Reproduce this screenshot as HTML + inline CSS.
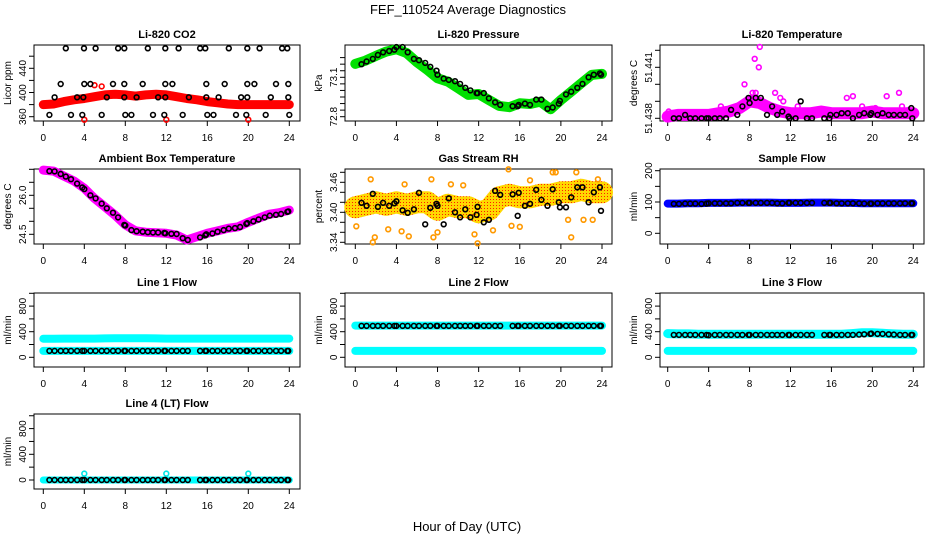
<!DOCTYPE html>
<html><head><meta charset="utf-8"><style>
html,body{margin:0;padding:0;background:#fff;}
svg{display:block;font-family:"Liberation Sans",sans-serif;}
</style></head><body>
<svg id="chart" width="936" height="540" viewBox="0 0 936 540" xmlns="http://www.w3.org/2000/svg">
<text x="468" y="14" font-size="13" text-anchor="middle">FEF_110524  Average Diagnostics</text>
<text x="467" y="531" font-size="13" text-anchor="middle">Hour of Day (UTC)</text>
</svg>
<script>
const xTicks=[0,4,8,12,16,20,24];
const T=[0.6,1.1,1.7,2.2,2.7,3.3,3.8,4.0,4.6,5.1,5.7,6.2,6.8,7.3,7.9,8.0,8.6,9.1,9.7,10.2,10.7,11.2,11.8,11.9,12.5,13.0,13.6,14.1,15.3,15.8,15.9,16.5,17.0,17.6,18.1,18.7,19.2,19.8,19.9,20.5,21.0,21.6,22.1,22.7,23.2,23.8,23.9];
const H=[0,1,2,3,4,5,6,7,8,9,10,11,12,13,14,15,16,17,18,19,20,21,22,23,24];
// CO2
const co2T=[2.2,3.97,5.1,7.3,7.9,10.2,11.9,13.2,15.3,15.8,18.1,19.9,21.1,23.3,23.8,1.7,4.0,4.6,6.8,7.9,9.7,11.9,12.6,15.9,17.7,19.9,20.6,22.7,23.9,1.1,3.3,3.9,6.2,7.9,9.1,11.2,11.9,14.2,15.9,17.1,19.3,19.9,22.2,23.9,0.6,2.7,3.8,5.7,8.0,8.6,10.7,11.8,13.6,16.0,16.6,18.8,19.8,21.7,24.0];
const co2V=[473,473,473,473,473,473,473,473,473,473,473,473,473,473,473,414,414,414,414,414,414,414,414,414,414,414,414,414,414,392,392,392,392,392,392,392,392,392,392,392,392,392,392,392,363,363,363,363,363,363,363,363,363,363,363,363,363,363,363];
const co2Band=[380,381,385,388,390,393,396,397,396,394,396,397,396,393,390,388,385,383,381,380,380,380,380,380,380];
const co2OutT=[4,12,20,5,5.7];
const co2OutV=[355,355,355,412,410];
// Pressure
const presBand=[73.202,73.227,73.263,73.296,73.314,73.284,73.215,73.156,73.093,73.067,73.017,72.966,72.973,72.927,72.882,72.872,72.902,72.897,72.915,72.856,72.927,72.991,73.055,73.118,73.126];
const presV=[73.2,73.22,73.24,73.27,73.29,73.3,73.31,73.33,73.33,73.29,73.24,73.23,73.21,73.18,73.15,73.12,73.09,73.08,73.07,73.05,73.02,73.0,72.98,72.98,72.98,72.94,72.91,72.89,72.88,72.88,72.89,72.9,72.89,72.93,72.93,72.86,72.87,72.9,72.92,72.97,72.99,73.02,73.05,73.1,73.12,73.13,73.12];
// Li-820 temperature
const tempBand=[51.4381,51.4382,51.4382,51.4382,51.4382,51.4383,51.4384,51.4386,51.4390,51.4389,51.4386,51.4384,51.4383,51.4383,51.4383,51.4384,51.4383,51.4383,51.4383,51.4383,51.4384,51.4383,51.4383,51.4383,51.4383];
const tempV=[51.438,51.438,51.4382,51.438,51.438,51.438,51.438,51.438,51.438,51.438,51.438,51.4385,51.4382,51.4387,51.4392,51.4389,51.4392,51.4392,51.4382,51.4387,51.4382,51.4384,51.4381,51.438,51.438,51.439,51.438,51.438,51.438,51.438,51.4382,51.4382,51.4383,51.4383,51.438,51.4382,51.4383,51.4382,51.4383,51.4382,51.4383,51.4382,51.4382,51.4382,51.4382,51.4386,51.438];
const tempSpT=[8.5,9.0,8.9,7.5,8.3,8.6,10.5,11.0,11.3,17.5,18.1,21.4,22.6,0.1,5.2,6.2,12.7,15.0,19.0,20.3,22.9,23.6];
const tempSpV=[51.4415,51.4422,51.441,51.44,51.4395,51.4395,51.4395,51.4392,51.439,51.4392,51.4393,51.4393,51.4395,51.4384,51.4387,51.4385,51.4387,51.4385,51.4387,51.4386,51.4387,51.4385];
// Ambient
const ambBand=[26.97,26.93,26.74,26.55,26.27,25.88,25.56,25.24,24.86,24.63,24.58,24.56,24.54,24.47,24.28,24.41,24.54,24.63,24.73,24.79,24.96,25.12,25.27,25.33,25.43];
const ambV=[26.93,26.92,26.82,26.72,26.62,26.45,26.30,26.24,26.0,25.88,25.68,25.5,25.33,25.15,24.86,24.84,24.66,24.62,24.6,24.58,24.57,24.57,24.55,24.54,24.52,24.51,24.35,24.28,24.38,24.46,24.5,24.53,24.6,24.66,24.72,24.74,24.78,24.9,24.93,25.0,25.07,25.15,25.22,25.25,25.28,25.36,25.38];
// RH
const rhBand=[3.41,3.415,3.42,3.415,3.42,3.415,3.42,3.42,3.405,3.415,3.41,3.41,3.40,3.405,3.43,3.435,3.43,3.43,3.435,3.435,3.44,3.44,3.445,3.44,3.44];
const rhV=[3.419,3.413,3.437,3.411,3.419,3.413,3.418,3.422,3.404,3.399,3.406,3.439,3.376,3.409,3.417,3.413,3.376,3.428,3.40,3.39,3.406,3.39,3.395,3.411,3.38,3.385,3.443,3.435,3.436,3.393,3.439,3.413,3.417,3.445,3.425,3.413,3.446,3.42,3.41,3.41,3.43,3.45,3.45,3.42,3.44,3.45,3.403];
const rhSpT=[0.1,1.5,1.9,3.2,4.5,4.8,5.2,7.4,7.6,8.0,9.3,10.5,11.6,11.9,13.4,14.9,15.2,16.0,17.0,19.2,19.5,20.7,21.0,21.5,22.2,23.1,23.6,1.7];
const rhSpV=[3.372,3.466,3.35,3.366,3.362,3.456,3.352,3.466,3.35,3.36,3.456,3.454,3.356,3.338,3.364,3.486,3.373,3.371,3.464,3.48,3.48,3.385,3.35,3.48,3.385,3.385,3.466,3.34];
// Flows
const sampleBand=[95,95,96,96,97,97,97,98,98,98,98,97,97,97,98,98,98,97,97,96,96,96,96,96,96];
const sampleV=[94,94,95,95,95,94,95,96,96,96,96,96,97,97,97,97,97,97,97,97,96,96,97,97,97,97,97,97,97,97,97,96,96,96,96,96,95,95,95,96,96,96,96,96,96,96,96];
const l1Hi=[290,290,292,292,292,292,295,298,298,298,298,296,292,292,292,292,292,292,292,292,292,292,292,292,292];
const l1Lo=[100,100,100,100,100,100,100,100,100,100,100,100,100,100,100,100,100,100,100,100,100,100,100,100,100];
const l1V=[100,100,100,100,100,100,100,100,100,100,100,100,100,100,100,100,100,100,100,100,100,100,100,100,100,100,100,100,100,100,100,100,100,100,100,100,100,100,100,100,100,100,100,100,100,100,100];
const l2Hi=[495,495,495,495,495,495,495,495,495,495,495,495,495,495,495,495,495,495,495,495,495,495,495,495,495];
const l2Lo=[100,100,100,100,100,100,100,100,100,100,100,100,100,100,100,100,100,100,100,100,100,100,100,100,100];
const l2V=[490,490,490,490,490,490,490,490,490,490,490,490,490,490,490,490,490,490,490,490,490,490,490,490,490,490,490,490,490,490,490,490,490,490,490,490,490,490,490,490,490,490,490,490,490,490,490];
const l3Hi=[370,365,365,360,360,360,360,360,360,360,360,360,360,360,360,360,360,360,370,385,385,375,365,360,360];
const l3Lo=[100,100,100,100,100,100,100,100,100,100,100,100,100,100,100,100,100,100,100,100,100,100,100,100,100];
const l3V=[350,350,350,350,350,350,350,345,350,350,350,350,350,350,350,350,350,350,350,350,350,350,350,348,350,350,350,350,350,350,350,350,350,350,350,355,360,365,370,365,365,360,355,350,350,350,350];
const l4Band=[0,0,0,0,0,0,0,0,0,0,0,0,0,0,0,0,0,0,0,0,0,0,0,0,0];
const l4V=[0,0,0,0,0,0,0,0,0,0,0,0,0,0,0,0,0,0,0,0,0,0,0,0,0,0,0,0,0,0,0,0,0,0,0,0,0,0,0,0,0,0,0,0,0,0,0];
const l4SpT=[4,12,20];
const l4SpV=[100,100,100];

const NS="http://www.w3.org/2000/svg";
const svg=document.getElementById('chart');
function mk(tag,attrs,parent){const e=document.createElementNS(NS,tag);for(const k in attrs)e.setAttribute(k,attrs[k]);(parent||svg).appendChild(e);return e;}
const defs=mk('defs',{});
const pat=mk('pattern',{id:'rhpat',width:'3',height:'3',patternUnits:'userSpaceOnUse'},defs);
mk('rect',{x:0,y:0,width:3,height:3,fill:'#ffd700'},pat);
mk('rect',{x:1,y:1,width:1,height:1,fill:'#ff2000'},pat);

const cols=[{l:34,r:300,h0:43.3,h24:289.3},{l:345,r:612,h0:355.3,h24:602},{l:660,r:924,h0:667.7,h24:913.3}];
const rows=[{t:45,b:121},{t:169,b:244},{t:293,b:367},{t:414,b:489}];

function panel(name,ci,ri,title,ylab,v0,p0,v1,p1,ticks,labels,labelText){
  const c=cols[ci],r=rows[ri];
  const g=mk('g',{});
  
  
  const xs=h=>c.h0+(h/24)*(c.h24-c.h0);
  const ys=v=>p0+(v-v0)*(p1-p0)/(v1-v0);
  const box=mk('rect',{x:c.l,y:r.t,width:c.r-c.l,height:r.b-r.t,fill:'none',stroke:'#000','stroke-width':1},g);
  
  
  const tt=mk('text',{x:(c.l+c.r)/2,y:r.t-7,'font-size':11,'font-weight':'bold','text-anchor':'middle'},g);
  tt.textContent=title;
  
  
  const yl=mk('text',{transform:`translate(${c.l-23},${(r.t+r.b)/2}) rotate(-90)`,'font-size':10,'text-anchor':'middle'},g);
  yl.textContent=ylab;
  
  
  const xa=mk('g',{},g);
  
  
  mk('line',{x1:xs(0),x2:xs(24),y1:r.b,y2:r.b,stroke:'#000'},xa);
  xTicks.forEach(h=>{
    mk('line',{x1:xs(h),x2:xs(h),y1:r.b,y2:r.b+5,stroke:'#000'},xa);
    const t=mk('text',{x:xs(h),y:r.b+20,'font-size':10,'text-anchor':'middle'},xa);
    t.textContent=String(h);
  });
  const ya=mk('g',{},g);
  
  
  ticks.forEach(v=>{
    mk('line',{x1:c.l-5,x2:c.l,y1:ys(v),y2:ys(v),stroke:'#000'},ya);
  });
  labels.forEach((v,i)=>{
    const t=mk('text',{transform:`translate(${c.l-8},${ys(v)}) rotate(-90)`,'font-size':10,'text-anchor':'middle'},ya);
    t.textContent=labelText?labelText[i]:String(v);
  });
  return {g,xs,ys,c,r};
}
function band(P,hs,vs,color,w,name){
  const pts=hs.map((h,i)=>P.xs(h).toFixed(1)+','+P.ys(vs[i]).toFixed(1)).join(' ');
  const pl=mk('polyline',{points:pts,fill:'none',stroke:color,'stroke-width':w,'stroke-linejoin':'round','stroke-linecap':'round'},P.g);
  
  
}
function pts(P,ts,vs,color,name){
  const g=mk('g',{},P.g);
  
  
  const n=Math.min(ts.length,vs.length);
  for(let i=0;i<n;i++){
    mk('circle',{cx:P.xs(ts[i]).toFixed(1),cy:P.ys(vs[i]).toFixed(1),r:2.4,fill:'none',stroke:color,'stroke-width':1.6},g);
  }
}
let P;
P=panel('co2',0,0,'Li-820 CO2','Licor ppm',360,116.7,440,68.3,[360,380,400,420,440,460],[360,400,440]);
band(P,H,co2Band,'#ff0000',9,'co2-red-series');
pts(P,co2OutT,co2OutV,'#ff0000','co2-red-outliers');
pts(P,co2T,co2V,'#000','co2-black-points');
P=panel('pressure',1,0,'Li-820 Pressure','kPa',72.8,116.7,73.1,77.3,[72.8,72.85,72.9,72.95,73.0,73.05,73.1,73.15,73.2,73.25],[72.8,73.1]);
band(P,H,presBand,'#00e000',10,'pressure-green-series');
pts(P,T,presV,'#000','pressure-black-points');
P=panel('li820-temp',2,0,'Li-820 Temperature','degrees C',51.438,118.3,51.441,67.3,[51.438,51.439,51.44,51.441,51.442],[51.438,51.441]);
band(P,H,tempBand,'#ff00ff',12,'temp-magenta-series');
pts(P,tempSpT,tempSpV,'#ff00ff','temp-magenta-points');
pts(P,T,tempV,'#000','temp-black-points');
P=panel('ambient',0,1,'Ambient Box Temperature','degrees C',24.5,234.3,26.0,195.3,[24.5,25,25.5,26,26.5,27],[24.5,26.0],['24.5','26.0']);
band(P,H,ambBand,'#ff00ff',9,'ambient-magenta-series');
pts(P,T,ambV,'#000','ambient-black-points');
P=panel('rh',1,1,'Gas Stream RH','percent',3.34,242.3,3.40,212.3,[3.34,3.36,3.38,3.40,3.42,3.44,3.46,3.48],[3.34,3.40,3.46],['3.34','3.40','3.46']);
band(P,H,rhBand,'url(#rhpat)',22,'rh-orange-series');
pts(P,rhSpT,rhSpV,'#ff9900','rh-orange-points');
pts(P,T,rhV,'#000','rh-black-points');
P=panel('sample-flow',2,1,'Sample Flow','ml/min',0,233.3,200,170.7,[0,50,100,150,200],[0,100,200]);
band(P,H,sampleBand,'#0000ff',8,'sample-blue-series');
pts(P,T,sampleV,'#000','sample-black-points');
const fl=[0,200,400,600,800,1000],fll=[0,400,800];
P=panel('line1-flow',0,2,'Line 1 Flow','ml/min',0,357.3,400,331.7,fl,fll);
band(P,H,l1Hi,'#00ffff',8,'line1-cyan-high');
band(P,H,l1Lo,'#00ffff',8,'line1-cyan-low');
pts(P,T,l1V,'#000','line1-black-points');
P=panel('line2-flow',1,2,'Line 2 Flow','ml/min',0,357.3,400,331.7,fl,fll);
band(P,H,l2Hi,'#00ffff',8,'line2-cyan-high');
band(P,H,l2Lo,'#00ffff',8,'line2-cyan-low');
pts(P,T,l2V,'#000','line2-black-points');
P=panel('line3-flow',2,2,'Line 3 Flow','ml/min',0,357.3,400,331.7,fl,fll);
band(P,H,l3Hi,'#00ffff',9,'line3-cyan-high');
band(P,H,l3Lo,'#00ffff',8,'line3-cyan-low');
pts(P,T,l3V,'#000','line3-black-points');
P=panel('line4-flow',0,3,'Line 4 (LT) Flow','ml/min',0,480,400,454.3,fl,fll);
band(P,H,l4Band,'#00ffff',7,'line4-cyan-series');
pts(P,l4SpT,l4SpV,'#00e5e5','line4-cyan-points');
pts(P,T,l4V,'#000','line4-black-points');
</script>
</body></html>
